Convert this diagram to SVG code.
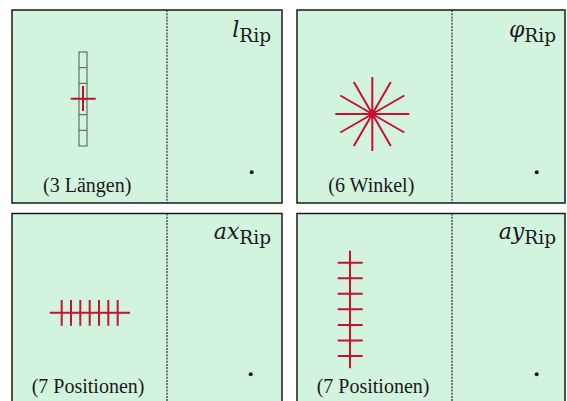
<svg xmlns="http://www.w3.org/2000/svg" width="567" height="401" viewBox="0 0 567 401">
<style>
.panel{fill:#d2f4df;stroke:#1a1a1a;stroke-width:1.5}
.div{stroke:#1a1a1a;stroke-width:1.1;stroke-dasharray:2,1.2;fill:none}
.red{stroke:#c8102e;stroke-width:2;fill:none}
.ruler{fill:#d6f2de;stroke:#3f5f47;stroke-width:1}
.cap{font-family:"Liberation Serif","Times New Roman",serif;font-size:20px;fill:#1a1a1a}
.lab{font-family:"DejaVu Serif","Liberation Serif",serif;fill:#1a1a1a;text-anchor:end}
.var{font-style:italic;font-size:22px}
.sub{font-size:18.5px}
.dot{fill:#1a1a1a}
</style>
<rect width="567" height="401" fill="#ffffff"/>
<g id="panel-l">
<rect class="panel" x="12" y="10" width="270" height="193"/>
<line class="div" x1="167" y1="10" x2="167" y2="203"/>
<rect class="ruler" x="79" y="52" width="8" height="94"/>
<path d="M79 67.7H87M79 83.3H87M79 99H87M79 114.7H87M79 130.3H87" stroke="#3f5f47" stroke-width="1"/>
<path class="red" d="M70.7 98.7H95.7M83 86V111"/>
<text class="cap" x="43" y="192">(3 Längen)</text>
<text class="lab" x="271" y="41"><tspan class="var" dy="-4">l</tspan><tspan class="sub" dy="5">Rip</tspan></text>
<circle class="dot" cx="251.7" cy="172.3" r="2"/>
</g>
<g id="panel-phi">
<rect class="panel" x="297" y="10" width="268" height="193"/>
<line class="div" x1="452" y1="10" x2="452" y2="203"/>
<path class="red" d="M335.3 114H409.3M372.3 77V151M353.8 82L390.8 146M390.8 82L353.8 146M340.3 95.5L404.3 132.5M404.3 95.5L340.3 132.5"/>
<text class="cap" x="328.3" y="192">(6 Winkel)</text>
<text class="lab" x="556" y="41"><tspan class="var" dy="-4">φ</tspan><tspan class="sub" dy="5">Rip</tspan></text>
<circle class="dot" cx="536.7" cy="172.3" r="2"/>
</g>
<g id="panel-ax">
<rect class="panel" x="12" y="213.5" width="270" height="200"/>
<line class="div" x1="167" y1="213.5" x2="167" y2="405"/>
<path class="red" d="M49.7 312.7H130M61.7 300V325.7M71 300V325.7M80.3 300V325.7M89.7 300V325.7M99 300V325.7M108.3 300V325.7M117.7 300V325.7"/>
<text class="cap" x="31.7" y="393">(7 Positionen)</text>
<text class="lab" x="271" y="243"><tspan class="var" dy="-4">ax</tspan><tspan class="sub" dy="5">Rip</tspan></text>
<circle class="dot" cx="250.7" cy="374.3" r="2"/>
</g>
<g id="panel-ay">
<rect class="panel" x="297" y="213.5" width="268" height="200"/>
<line class="div" x1="452" y1="213.5" x2="452" y2="405"/>
<path class="red" d="M350 250.7V368.3M337.7 262.7H362.7M337.7 278.2H362.7M337.7 293.8H362.7M337.7 309.3H362.7M337.7 324.9H362.7M337.7 340.4H362.7M337.7 356H362.7"/>
<text class="cap" x="316.7" y="393">(7 Positionen)</text>
<text class="lab" x="556" y="243"><tspan class="var" dy="-4">ay</tspan><tspan class="sub" dy="5">Rip</tspan></text>
<circle class="dot" cx="536.7" cy="374.3" r="2"/>
</g>
<g id="connectors"/>
</svg>
